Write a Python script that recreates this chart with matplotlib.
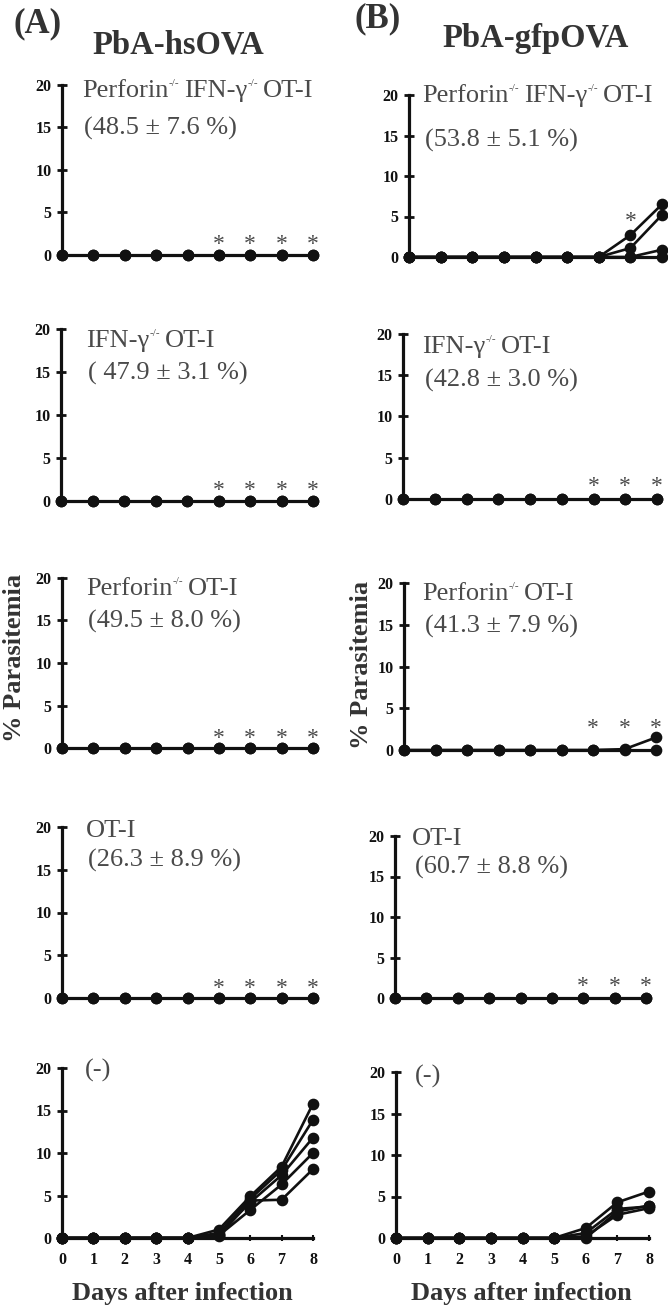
import matplotlib
matplotlib.use('Agg')
import matplotlib.pyplot as plt

plt.rcParams['font.family'] = ['Liberation Serif', 'DejaVu Serif']

# ---------------- data ----------------
days = [0, 1, 2, 3, 4, 5, 6, 7, 8]

# Column A : PbA-hsOVA
A_dko = [[0, 0, 0, 0, 0, 0, 0, 0, 0],
         [0, 0, 0, 0, 0, 0, 0, 0, 0]]
A_ifng = [[0, 0, 0, 0, 0, 0, 0, 0, 0],
          [0, 0, 0, 0, 0, 0, 0, 0, 0]]
A_perf = [[0, 0, 0, 0, 0, 0, 0, 0, 0],
          [0, 0, 0, 0, 0, 0, 0, 0, 0]]
A_ot1 = [[0, 0, 0, 0, 0, 0, 0, 0, 0],
         [0, 0, 0, 0, 0, 0, 0, 0, 0]]
A_none = [[0, 0, 0, 0, 0, 1.0, 4.9, 8.4, 15.8],
          [0, 0, 0, 0, 0, 0.6, 4.6, 8.0, 13.9],
          [0, 0, 0, 0, 0, 0.4, 4.2, 7.4, 11.8],
          [0, 0, 0, 0, 0, 0.3, 3.3, 6.3, 10.0],
          [0, 0, 0, 0, 0, 0.2, 4.4, 4.5, 8.1]]

# Column B : PbA-gfpOVA
B_dko = [[0, 0, 0, 0, 0, 0, 0, 2.7, 6.5],
         [0, 0, 0, 0, 0, 0, 0, 1.1, 5.2],
         [0, 0, 0, 0, 0, 0, 0, 0, 0.9],
         [0, 0, 0, 0, 0, 0, 0, 0, 0]]
B_ifng = [[0, 0, 0, 0, 0, 0, 0, 0, 0],
          [0, 0, 0, 0, 0, 0, 0, 0, 0]]
B_perf = [[0, 0, 0, 0, 0, 0, 0, 0.1, 1.5],
          [0, 0, 0, 0, 0, 0, 0, 0, 0]]
B_ot1 = [[0, 0, 0, 0, 0, 0, 0, 0, 0],
         [0, 0, 0, 0, 0, 0, 0, 0, 0]]
B_none = [[0, 0, 0, 0, 0, 0, 1.2, 4.3, 5.6],
          [0, 0, 0, 0, 0, 0, 0.6, 3.5, 3.8],
          [0, 0, 0, 0, 0, 0, 0.2, 2.8, 3.6],
          [0, 0, 0, 0, 0, 0, 0, 3.2, 3.9]]

A_stars = [[5, 6, 7, 8], [5, 6, 7, 8], [5, 6, 7, 8], [5, 6, 7, 8], []]
B_stars = [[7], [6, 7, 8], [6, 7, 8], [6, 7, 8], []]

A_groups = ["Perforin|IFN-γ|OT-I", "IFN-γ|OT-I", "Perforin|OT-I", "OT-I", "(-)"]
B_groups = ["Perforin|IFN-γ|OT-I", "IFN-γ|OT-I", "Perforin|OT-I", "OT-I", "(-)"]
A_protect = ["(48.5 ± 7.6 %)", "( 47.9 ± 3.1 %)", "(49.5 ± 8.0 %)", "(26.3 ± 8.9 %)", ""]
B_protect = ["(53.8 ± 5.1 %)", "(42.8 ± 3.0 %)", "(41.3 ± 7.9 %)", "(60.7 ± 8.8 %)", ""]

yticks = [0, 5, 10, 15, 20]

# ---------------- layout ----------------
W, H = 668, 1309
fig = plt.figure(figsize=(W / 100, H / 100), dpi=100)
renderer = fig.canvas.get_renderer()


def fx(px):
    return px / W


def fy(py):
    return 1 - py / H


TXT = '#4a4a4a'
DARK = '#333333'

# axes boxes in pixels: (x at day0, x at day8, y at 20, y at 0)
A_boxes = [(62, 313, 85, 255), (61, 313, 329, 501), (62, 313, 578, 748),
           (62, 313, 827, 998), (62, 313, 1068, 1238)]
B_boxes = [(409, 662, 95, 257), (403, 657, 334, 499), (404, 656, 583, 750),
           (395, 646, 836, 998), (396, 649, 1072, 1238)]
# label positions (x, baseline line1, baseline line2)
A_lab = [(82, 97, 135), (86, 347, 380), (86, 595, 628), (86, 837, 867), (85, 1077, None)]
B_lab = [(422, 102, 147), (422, 353, 387), (422, 600, 633), (412, 845, 874), (415, 1083, None)]
A_star_off = [17, 17, 16, 16, 0]
B_star_off = [42, 19, 28, 18, 0]

FS = 19


def rich_text(x, y, group, size=FS):
    parts = group.split('|')
    for i, p in enumerate(parts):
        t = fig.text(fx(x), fy(y), p, fontsize=size, color=TXT, va='baseline', ha='left')
        x += t.get_window_extent(renderer).width
        if i < len(parts) - 1:
            s = fig.text(fx(x + 0.5), fy(y - 11), '-/-', fontsize=8, color=TXT,
                         va='baseline', ha='left')
            x += s.get_window_extent(renderer).width + 5


def make_panel(box, series, stars, star_off, bottom):
    x0, x8, y20, y0 = box
    ax = fig.add_axes([fx(x0), fy(y0), (x8 - x0) / W, (y0 - y20) / H])
    ax.set_xlim(0, 8)
    ax.set_ylim(0, 20)
    for s in ['top', 'right']:
        ax.spines[s].set_visible(False)
    for s in ['left', 'bottom']:
        ax.spines[s].set_linewidth(2.3)
        ax.spines[s].set_color('#111111')
    ax.set_yticks(yticks)
    ax.set_xticks(days)
    ax.tick_params(axis='y', direction='inout', length=7, width=2, labelsize=11.5,
                   pad=4, colors='#111111')
    ax.tick_params(axis='x', direction='inout', length=4, width=1.5, labelsize=11.5,
                   pad=8, colors='#111111', labelbottom=bottom)
    for lbl in ax.get_yticklabels() + ax.get_xticklabels():
        lbl.set_fontweight('bold')
    for vals in series:
        ax.plot(days, vals, 'o-', color='#111111', ms=7.4, lw=1.9, clip_on=False, zorder=5)
    for d in stars:
        ax.annotate('*', xy=(d, 0), xytext=(0, (star_off - 12) * 0.72),
                    textcoords='offset points', ha='center', va='baseline',
                    fontsize=17, color=TXT, annotation_clip=False)
    return ax


A_series = [A_dko, A_ifng, A_perf, A_ot1, A_none]
B_series = [B_dko, B_ifng, B_perf, B_ot1, B_none]

for i in range(5):
    make_panel(A_boxes[i], A_series[i], A_stars[i], A_star_off[i], i == 4)
    make_panel(B_boxes[i], B_series[i], B_stars[i], B_star_off[i], i == 4)
    x, b1, b2 = A_lab[i]
    rich_text(x, b1, A_groups[i])
    if b2 is not None:
        fig.text(fx(x + 2), fy(b2), A_protect[i], fontsize=FS, color=TXT, va='baseline')
    x, b1, b2 = B_lab[i]
    rich_text(x, b1, B_groups[i])
    if b2 is not None:
        fig.text(fx(x + 3), fy(b2), B_protect[i], fontsize=FS, color=TXT, va='baseline')

# titles
fig.text(fx(38), fy(32), '(A)', fontsize=25, fontweight='bold', color=DARK,
         ha='center', va='baseline')
fig.text(fx(378), fy(27), '(B)', fontsize=25, fontweight='bold', color=DARK,
         ha='center', va='baseline')
fig.text(fx(178), fy(53), 'PbA-hsOVA', fontsize=23.5, fontweight='bold', color=DARK,
         ha='center', va='baseline')
fig.text(fx(536), fy(47), 'PbA-gfpOVA', fontsize=23.5, fontweight='bold', color=DARK,
         ha='center', va='baseline')

# axis labels
for xc, yc in [(15, 658), (361, 665)]:
    fig.text(fx(xc), fy(yc), '% Parasitemia', fontsize=19, fontweight='bold', color=DARK,
             rotation=90, ha='center', va='center', rotation_mode='anchor')
for xc in [182, 521]:
    fig.text(fx(xc), fy(1300), 'Days after infection', fontsize=19, fontweight='bold',
             color=DARK, ha='center', va='baseline')

fig.savefig('out.png', dpi=100)
